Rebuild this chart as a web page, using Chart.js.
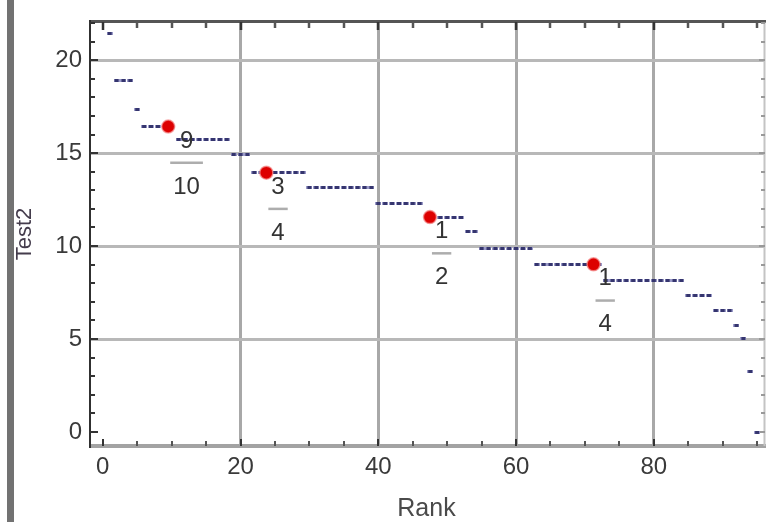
<!DOCTYPE html>
<html><head><meta charset="utf-8">
<script src="https://cdn.jsdelivr.net/npm/chart.js@4.4.0/dist/chart.umd.min.js"></script>
<style>
html,body{margin:0;padding:0;background:#fff;}
#wrap{position:relative;width:772px;height:522px;overflow:hidden;background:#fff;}
#edge{position:absolute;left:7px;top:0;width:7px;height:522px;background:#727272;}
canvas{position:absolute;left:0;top:0;}
</style></head><body>
<div id="wrap"><canvas id="c" width="772" height="522"></canvas><div id="edge"></div></div>
<script>
// ---- data ----
const ranks = [1,2,3,4,5,6,7,8,9,10,11,12,13,14,15,16,17,18,19,20,21,22,23,24,25,26,27,28,29,30,
  31,32,33,34,35,36,37,38,39,40,41,42,43,44,45,46,47,48,49,50,51,52,53,54,55,56,57,58,59,60,
  61,62,63,64,65,66,67,68,69,70,71,72,73,74,75,76,77,78,79,80,81,82,83,84,85,86,87,88,89,90,
  91,92,93,94,95];
const test2 = [21.44,
  18.93,18.93,18.93,
  17.35,
  16.43,16.43,16.43,16.43,16.43,
  15.71,15.71,15.71,15.71,15.71,15.71,15.71,15.71,
  14.9,14.9,14.9,
  13.95,13.95,13.95,13.95,13.95,13.95,13.95,13.95,
  13.17,13.17,13.17,13.17,13.17,13.17,13.17,13.17,13.17,13.17,
  12.3,12.3,12.3,12.3,12.3,12.3,12.3,
  11.56,11.56,11.56,11.56,11.56,11.56,
  10.76,10.76,
  9.87,9.87,9.87,9.87,9.87,9.87,9.87,9.87,
  9.02,9.02,9.02,9.02,9.02,9.02,9.02,9.02,9.02,9.02,
  8.15,8.15,8.15,8.15,8.15,8.15,8.15,8.15,8.15,8.15,8.15,8.15,
  7.35,7.35,7.35,7.35,
  6.51,6.51,6.51,
  5.74,
  5.01,
  3.28,
  0];
const quantileRanks = [9.5, 23.75, 47.5, 71.25];
const quantileValues = [16.43, 13.95, 11.56, 9.02];
const quantileLabels = ['9/10', '3/4', '1/2', '1/4'];
const xTickValues = [0, 20, 40, 60, 80];
const yTickValues = [0, 5, 10, 15, 20];
const xAxisTitle = 'Rank';
const yAxisTitle = 'Test2';

// ---- styling ----
const FONT = '"Liberation Sans", Arial, sans-serif';
const mark = document.createElement('canvas');
mark.width = 6; mark.height = 3;
const mc = mark.getContext('2d');
mc.fillStyle = '#9a9ac8'; mc.fillRect(0, 0, 6, 3);
mc.fillStyle = '#35356e'; mc.fillRect(1, 0, 4, 3);

function ln(ctx, x1, y1, x2, y2, color, w) {
  ctx.beginPath(); ctx.moveTo(x1, y1); ctx.lineTo(x2, y2);
  ctx.strokeStyle = color; ctx.lineWidth = w; ctx.stroke();
}

const framePlugin = {
  id: 'frame',
  beforeDatasetsDraw(chart) {
    const {ctx, chartArea: a, scales: {x, y}} = chart;
    ctx.save();
    ln(ctx, a.left, a.bottom, a.right + 2, a.bottom, '#a3a3a3', 4);
    ln(ctx, a.left, a.top - 0.5, a.right + 2, a.top - 0.5, '#555555', 3);
    ln(ctx, a.right + 0.5, a.top, a.right + 0.5, a.bottom, '#c4c4c4', 2);
    ln(ctx, a.left + 1, a.top - 2, a.left + 1, a.bottom + 2, '#303030', 2);
    for (let v = 0; v <= x.max; v += 5) {
      const px = Math.round(x.getPixelForValue(v));
      const major = v % 20 === 0;
      ln(ctx, px, a.top, px, a.top + (major ? 8 : 6), major ? '#333' : '#555', 2.5);
      ln(ctx, px, a.bottom, px, a.bottom - (major ? 7 : 5), major ? '#333' : '#555', 2);
    }
    for (let v = 0; v <= y.max; v += 1) {
      const py = Math.round(y.getPixelForValue(v));
      const major = v % 5 === 0;
      ln(ctx, a.left, py, a.left + (major ? 9 : 6), py, '#333', 2);
      ln(ctx, a.right + 1, py, a.right + 1 - (major ? 6 : 4), py, '#999', 2);
    }
    ctx.restore();
  }
};

const fracPlugin = {
  id: 'frac',
  afterDatasetsDraw(chart) {
    const {ctx, scales: {x, y}} = chart;
    ctx.save();
    ctx.font = '24px ' + FONT;
    ctx.textAlign = 'center';
    ctx.textBaseline = 'alphabetic';
    quantileLabels.forEach((lab, i) => {
      const parts = lab.split('/');
      const px = x.getPixelForValue(quantileRanks[i]);
      const py = y.getPixelForValue(quantileValues[i]);
      const w = ctx.measureText(parts[1]).width + 6;
      const cx = px + 2 + w / 2;
      ctx.fillStyle = '#333';
      ctx.fillText(parts[0], cx, py + 21);
      ctx.fillText(parts[1], cx, py + 67);
      ctx.fillStyle = '#adadad';
      ctx.fillRect(px + 2, py + 35, w, 2.5);
    });
    ctx.restore();
  }
};

new Chart(document.getElementById('c'), {
  type: 'scatter',
  data: {
    datasets: [
      {
        data: ranks.map((r, i) => ({x: r, y: test2[i]})),
        pointStyle: mark,
        pointRadius: 3,
        showLine: false,
        order: 2
      },
      {
        data: quantileRanks.map((r, i) => ({x: r, y: quantileValues[i]})),
        pointStyle: 'circle',
        pointRadius: 6.5,
        backgroundColor: '#dd0000',
        borderColor: 'rgba(245,140,140,0.7)',
        borderWidth: 1.5,
        showLine: false,
        order: 1
      }
    ]
  },
  options: {
    responsive: false,
    animation: false,
    devicePixelRatio: 1,
    layout: {padding: {top: 22, right: 2, left: 0, bottom: 0}},
    plugins: {legend: {display: false}, tooltip: {enabled: false}},
    scales: {
      x: {
        type: 'linear', min: -2, max: 96,
        afterBuildTicks: s => { s.ticks = xTickValues.map(v => ({value: v})); },
        afterFit: s => { s.height = 76; },
        grid: {
          color: c => (c.tick && c.tick.value === 0) ? 'rgba(0,0,0,0)' : '#a8a8a8',
          lineWidth: 3, drawTicks: false
        },
        border: {display: false},
        ticks: {font: {family: FONT, size: 24}, color: '#3a3a3a', padding: 7, maxRotation: 0, autoSkip: false},
        title: {display: true, text: xAxisTitle, font: {family: FONT, size: 25, lineHeight: 1}, color: '#4a4a4a', padding: {top: 0, bottom: 0}}
      },
      y: {
        type: 'linear', min: -0.75, max: 22.05,
        afterBuildTicks: s => { s.ticks = yTickValues.map(v => ({value: v})); },
        afterFit: s => { s.width = 89; },
        grid: {
          color: c => (c.tick && c.tick.value === 0) ? 'rgba(0,0,0,0)' : '#b8b8b8',
          lineWidth: 3, drawTicks: false
        },
        border: {display: false},
        ticks: {font: {family: FONT, size: 24}, color: '#3a3a3a', padding: 7, autoSkip: false},
        title: {display: true, text: yAxisTitle, font: {family: FONT, size: 22, lineHeight: 1}, color: '#443c4c', padding: {top: 14, bottom: 0}}
      }
    }
  },
  plugins: [framePlugin, fracPlugin]
});
</script>
</body></html>
